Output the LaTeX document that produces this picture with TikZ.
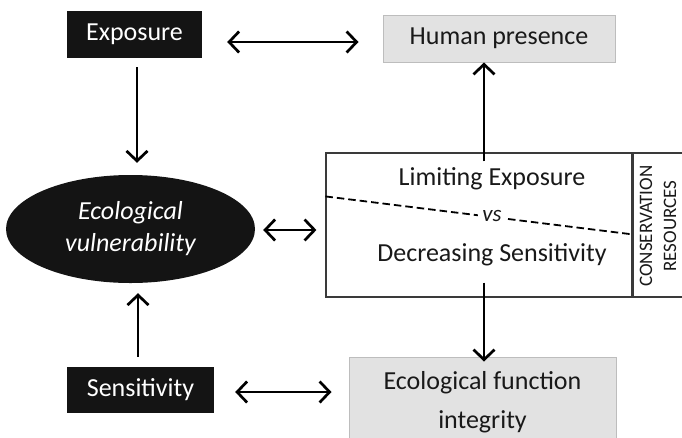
\documentclass[tikz,border=0pt]{standalone}
\usepackage{fontspec}
\setmainfont{Carlito}
\usetikzlibrary{arrows.meta,shapes.geometric}
\definecolor{boxblack}{HTML}{141414}
\definecolor{boxgrey}{HTML}{E2E2E2}
\definecolor{edgegrey}{HTML}{BDBDBD}
\definecolor{framegrey}{HTML}{3A3A3A}

\begin{document}
\begin{tikzpicture}[x=1pt,y=-1pt,
    blackbox/.style={rectangle, fill=boxblack, text=white, inner sep=0pt,
        font=\fontsize{26}{31}\selectfont},
    greybox/.style={rectangle, fill=boxgrey, draw=edgegrey, line width=1pt,
        text=black!90, inner sep=0pt, align=center,
        font=\fontsize{26}{39}\selectfont},
    plaintext/.style={text=black!90, font=\fontsize{26}{31}\selectfont},
    arr/.style={-{Straight Barb[length=10pt,width=21pt]}, line width=2.7pt},
    biarr/.style={{Straight Barb[length=10pt,width=21pt]}-{Straight Barb[length=10pt,width=21pt]},
        line width=2.7pt},
    ]
    \useasboundingbox (0,0) rectangle (682,437);
    \clip (0,0) rectangle (682,437);

    % left column
    \node[blackbox, minimum width=135, minimum height=47] (expo) at (134.5,34.5) {Exposure};
    \node[ellipse, fill=boxblack, text=white, minimum width=249, minimum height=108,
        inner sep=0pt, align=center, font=\fontsize{26}{32}\selectfont\itshape]
        (vuln) at (130.5,229) {Ecological\\vulnerability};
    \node[blackbox, minimum width=147, minimum height=46] (sens) at (140.5,390) {Sensitivity};

    % right column
    \node[greybox, minimum width=232, minimum height=47] (human) at (499,38.5) {Human presence};
    \node[greybox, minimum width=267, minimum height=91] (func) at (482.5,402.5)
        {Ecological function\\integrity};

    % strategy box
    \node[draw=framegrey, line width=1.2pt, minimum width=306, minimum height=144,
        inner sep=0pt] (choice) at (479,225) {};
    \node[draw=framegrey, line width=1.2pt, minimum width=60, minimum height=144,
        inner sep=0pt, anchor=west] (res) at (choice.east) {};
    \node[plaintext] (limit) at (492,179) {Limiting Exposure};
    \node[plaintext] (decr) at (492,255) {Decreasing Sensitivity};
    \draw[line width=1.8pt, dash pattern=on 7.5pt off 4pt]
        ([yshift=-44pt]choice.north west) -- ([yshift=-82pt]choice.north east);
    \node[fill=white, inner xsep=4pt, inner ysep=0pt, text=black!90,
        font=\fontsize{23}{26}\selectfont\itshape] (vs) at (492,216) {vs};
    \node[rotate=90, align=center, text=black!90, inner sep=0pt,
        font=\fontsize{19}{24}\selectfont]
        (restext) at (658,226) {CONSERVATION\\RESOURCES};

    % connectors
    \draw[biarr] ([xshift=25pt,yshift=-7.5pt]expo.east) -- ([xshift=-24pt,yshift=-3.5pt]human.west);
    \draw[arr] ([xshift=2.5pt,yshift=-9pt]expo.south) -- ([xshift=6.5pt,yshift=12pt]vuln.north);
    \draw[arr] ([xshift=-2.5pt,yshift=10pt]sens.north) -- ([xshift=7.5pt,yshift=-10pt]vuln.south);
    \draw[biarr] ([xshift=21pt,yshift=-2pt]sens.east) -- ([xshift=-17pt,yshift=10.5pt]func.west);
    \draw[biarr] ([xshift=8pt,yshift=-1pt]vuln.east) -- ([xshift=-9pt,yshift=-5pt]choice.west);
    \draw[arr] ([xshift=5pt,yshift=-9pt]choice.north) -- ([xshift=-15pt]human.south);
    \draw[arr] ([xshift=5pt,yshift=15pt]choice.south) -- ([xshift=1.5pt,yshift=-5pt]func.north);
\end{tikzpicture}
\end{document}
